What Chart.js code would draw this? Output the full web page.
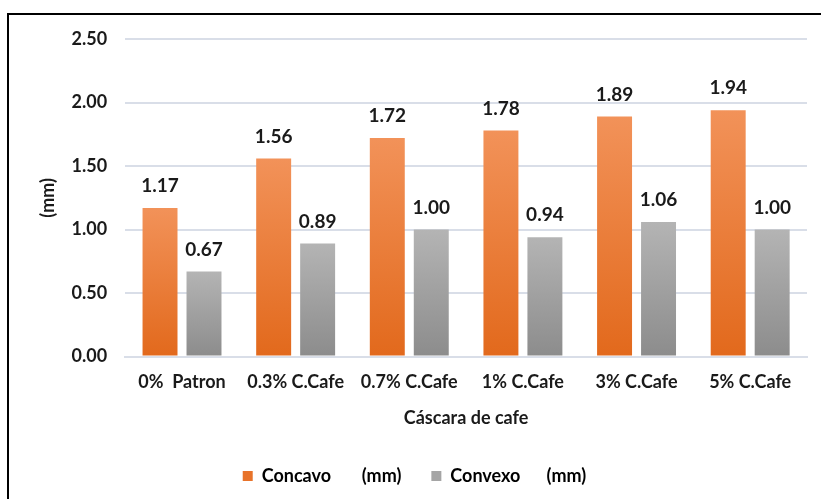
<!DOCTYPE html>
<html>
<head>
<meta charset="utf-8">
<script src="https://cdn.jsdelivr.net/npm/chart.js@4.4.0/dist/chart.umd.min.js"></script>
<style>
  html, body { margin: 0; padding: 0; background: #fff; }
  #frame { position: absolute; left: 7px; top: 13px; width: 830px; height: 500px;
           border-left: 2px solid #000; border-top: 2px solid #000; }
  #wrap { position: absolute; left: 0; top: 0; width: 821px; height: 499px; }
</style>
</head>
<body>
<div id="frame"></div>
<div id="wrap"><canvas id="myChart" width="821" height="499"></canvas></div>
<script>
// datos
var categorias = ['0%  Patron', '0.3% C.Cafe', '0.7% C.Cafe', '1% C.Cafe', '3% C.Cafe', '5% C.Cafe'];
var concavo = [1.17, 1.56, 1.72, 1.78, 1.89, 1.94];
var convexo = [0.67, 0.89, 1.00, 0.94, 1.06, 1.00];
var yTicks = [0, 0.5, 1.0, 1.5, 2.0, 2.5];

var FONT = 'Lato, "Open Sans", sans-serif';

// degradado por barra (claro arriba, oscuro abajo)
function gradiente(top, bottom) {
  return function (c) {
    var chart = c.chart;
    var y = chart.scales.y;
    if (!chart.chartArea || !y || c.raw == null) return bottom;
    var y0 = y.getPixelForValue(c.raw);
    var y1 = y.getPixelForValue(0);
    if (!isFinite(y0) || !isFinite(y1) || y0 === y1) return bottom;
    var g = chart.ctx.createLinearGradient(0, y0, 0, y1);
    g.addColorStop(0, top);
    g.addColorStop(1, bottom);
    return g;
  };
}

// etiquetas de valor encima de cada barra
var etiquetas = {
  id: 'etiquetas',
  afterDatasetsDraw: function (chart) {
    var ctx = chart.ctx;
    ctx.save();
    ctx.font = 'bold 19px ' + FONT;
    ctx.fillStyle = '#1a1a1a';
    ctx.textAlign = 'center';
    ctx.textBaseline = 'middle';
    chart.data.datasets.forEach(function (ds, i) {
      chart.getDatasetMeta(i).data.forEach(function (bar, j) {
        ctx.fillText(ds.data[j].toFixed(2), bar.x, bar.y - 22);
      });
    });
    ctx.restore();
  }
};

var ctx = document.getElementById('myChart').getContext('2d');
var myChart = new Chart(ctx, {
  type: 'bar',
  data: {
    labels: categorias,
    datasets: [
      {
        label: 'Concavo       (mm)',
        data: concavo,
        backgroundColor: gradiente('#F29259', '#E2691C'),
        borderWidth: 0,
        categoryPercentage: 0.774,
        barPercentage: 0.795
      },
      {
        label: 'Convexo      (mm)',
        data: convexo,
        backgroundColor: gradiente('#B4B4B4', '#8C8C8C'),
        borderWidth: 0,
        categoryPercentage: 0.774,
        barPercentage: 0.795
      }
    ]
  },
  options: {
    responsive: false,
    animation: false,
    layout: { padding: { left: 22, right: 14, top: 39, bottom: 4 } },
    plugins: {
      tooltip: { enabled: false },
      legend: {
        position: 'bottom',
        labels: {
          generateLabels: function (chart) {
            var cols = ['#E8732A', '#A5A5A5'];
            return chart.data.datasets.map(function (ds, i) {
              return { text: ds.label, fillStyle: cols[i], strokeStyle: cols[i], lineWidth: 0,
                       datasetIndex: i, hidden: false };
            });
          },
          boxWidth: 10,
          boxHeight: 10,
          padding: 30,
          color: '#1a1a1a',
          font: { family: FONT, size: 18, weight: 'bold' }
        }
      }
    },
    scales: {
      x: {
        grid: { display: false, drawTicks: false },
        border: { color: 'rgb(217,222,232)', width: 2 },
        ticks: { color: '#1a1a1a', padding: 15, font: { family: FONT, size: 18, weight: 'bold' } },
        title: { display: true, text: 'Cáscara de cafe', color: '#1a1a1a', padding: { top: 0, bottom: 9 },
                 font: { family: FONT, size: 18, weight: 'bold', lineHeight: 1.1 } }
      },
      y: {
        min: 0,
        max: 2.5,
        afterBuildTicks: function (scale) {
          scale.ticks = yTicks.map(function (v) { return { value: v }; });
        },
        grid: { color: 'rgb(217,222,232)', lineWidth: 2, drawTicks: false },
        border: { display: false },
        ticks: {
          color: '#1a1a1a', padding: 18,
          font: { family: FONT, size: 18, weight: 'bold' },
          callback: function (v) { return Number(v).toFixed(2); }
        },
        title: { display: true, text: '(mm)', color: '#1a1a1a', padding: { top: 15, bottom: -5 },
                 font: { family: FONT, size: 18, weight: 'bold' } }
      }
    }
  },
  plugins: [etiquetas]
});
</script>
</body>
</html>
